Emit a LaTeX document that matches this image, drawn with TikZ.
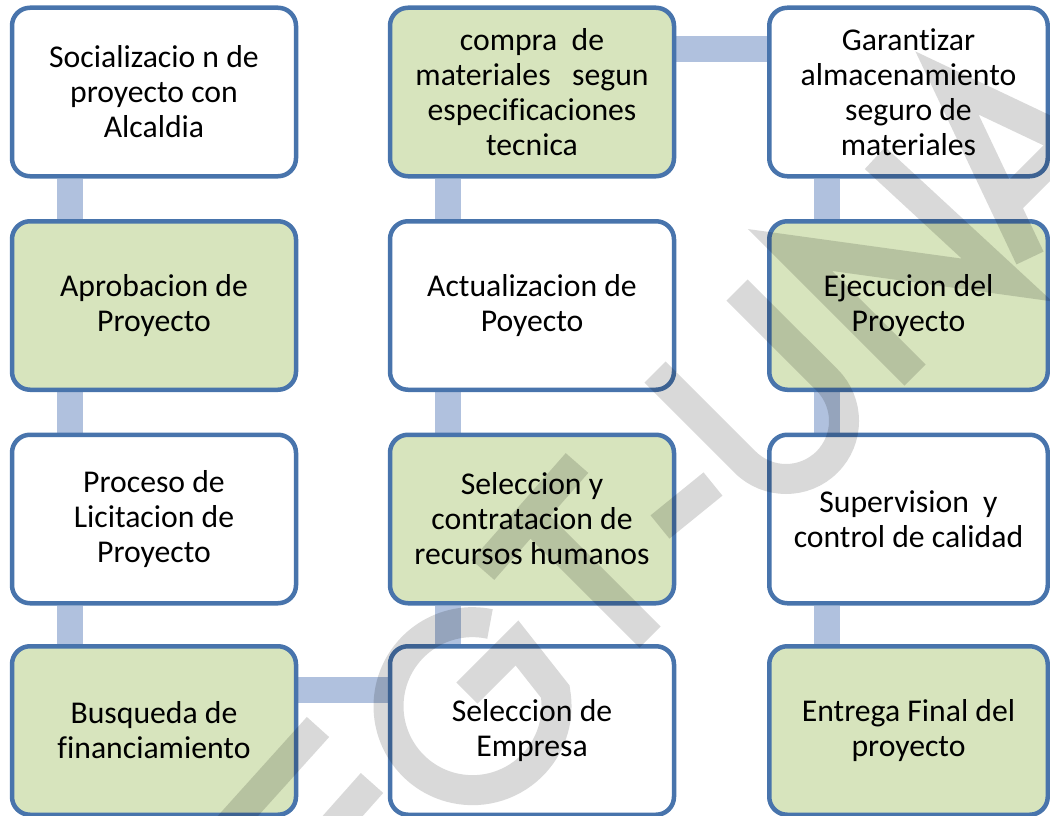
\documentclass[tikz,border=0pt]{standalone}
\usepackage{fontspec}
\setmainfont{Carlito}[Ligatures=NoCommon]
\usetikzlibrary{calc}
\pgfdeclarelayer{background}
\pgfsetlayers{background,main}
\definecolor{bordblue}{RGB}{72,116,172}
\definecolor{connblue}{RGB}{176,193,222}
\definecolor{boxgreen}{RGB}{215,228,189}
\tikzset{
  stepbox/.style={draw=bordblue, line width=4.5pt, rounded corners=18pt,
    minimum width=284pt, minimum height=168.5pt, inner sep=0pt, align=center,
    font=\fontsize{31.7}{35}\selectfont, text=black},
  whitebox/.style={stepbox, fill=white},
  greenbox/.style={stepbox, fill=boxgreen},
  narrow/.style={minimum width=278.5pt},
  conn/.style={draw=connblue, line width=26pt},
  wm/.style={draw=black, draw opacity=0.15, line width=30pt, line cap=butt, line join=miter}
}
\begin{document}
\begin{tikzpicture}[x=1pt,y=-1pt]
\useasboundingbox (0,0) rectangle (1050,816);
% boxes
\node[whitebox] (a1) at (154,92) {Socializacio n de\\proyecto con\\Alcaldia};
\node[greenbox] (a2) at (154,305.5) {Aprobacion de\\Proyecto};
\node[whitebox] (a3) at (154,519) {Proceso de\\Licitacion de\\Proyecto};
\node[greenbox] (a4) at (154,730.5) {Busqueda de\\financiamiento};
\node[whitebox] (b4) at (532,730.5) {Seleccion de\\Empresa};
\node[greenbox] (b3) at (532,519) {Seleccion y\\contratacion de\\recursos humanos};
\node[whitebox] (b2) at (532,305.5) {Actualizacion de\\Poyecto};
\node[greenbox] (b1) at (532,92) {compra\ \ de\\materiales\ \ \ segun\\especificaciones\\tecnica};
\node[whitebox,narrow] (c1) at (908.5,92) {Garantizar\\almacenamiento\\seguro de\\materiales};
\node[greenbox,narrow] (c2) at (908.5,305.5) {Ejecucion del\\Proyecto};
\node[whitebox,narrow] (c3) at (908.5,519) {Supervision\ \ y\\control de calidad};
\node[greenbox,narrow] (c4) at (908.5,730.5) {Entrega Final del\\proyecto};
% connectors
\begin{pgfonlayer}{background}
\draw[conn] ([xshift=60pt]a1.south west) -- ([xshift=60pt]a2.north west);
\draw[conn] ([xshift=60pt]a2.south west) -- ([xshift=60pt]a3.north west);
\draw[conn] ([xshift=60pt]a3.south west) -- ([xshift=60pt]a4.north west);
\draw[conn] ([yshift=-46pt]a4.north east) -- ([yshift=-46pt]b4.north west);
\draw[conn] ([xshift=60pt]b4.north west) -- ([xshift=60pt]b3.south west);
\draw[conn] ([xshift=60pt]b3.north west) -- ([xshift=60pt]b2.south west);
\draw[conn] ([xshift=60pt]b2.north west) -- ([xshift=60pt]b1.south west);
\draw[conn] ([yshift=-43.5pt]b1.north east) -- ([yshift=-43.5pt]c1.north west);
\draw[conn] ([xshift=60pt]c1.south west) -- ([xshift=60pt]c2.north west);
\draw[conn] ([xshift=60pt]c2.south west) -- ([xshift=60pt]c3.north west);
\draw[conn] ([xshift=60pt]c3.south west) -- ([xshift=60pt]c4.north west);
\end{pgfonlayer}
% watermark
\begin{scope}
\clip (0,0) rectangle (1050,816);
\draw[wm]
  (200,858) -- (318,727)
  (332,828) -- (372,783)
  (490,624) arc[start angle=-78, end angle=-370, radius=84] -- (517,643) -- (467,693)
  (483,570) -- (577,463) (530,517) -- (650,637)
  (660,527) -- (713,484)
  (655,372) -- (745,462) arc[start angle=135, end angle=-45, radius=58] -- (737,290)
  (915,375) -- (790,250) -- (1007,280) -- (875,158)
  (1030,258) -- (947,83) -- (1122,166) (1005,205) -- (1069,141);
\end{scope}
\end{tikzpicture}
\end{document}
